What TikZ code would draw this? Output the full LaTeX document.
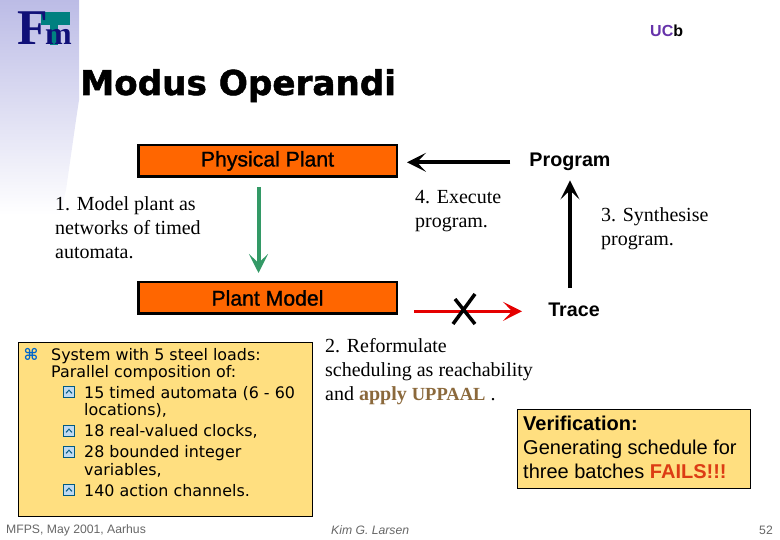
\documentclass[tikz,border=0pt]{standalone}
\usepackage{fontspec}
\setmainfont{Liberation Serif}
\setsansfont{Liberation Sans}
\newfontfamily\verdfont{DejaVu Sans}
\newfontfamily\titlefont[BoldFeatures={FakeBold=1.5}]{DejaVu Sans}
\newfontfamily\plantfont[FakeBold=1.2]{Liberation Sans}
\usepackage{tikz}
\usetikzlibrary{arrows.meta, positioning}
\definecolor{plantorange}{RGB}{255,102,0}
\definecolor{noteyellow}{RGB}{255,223,128}
\definecolor{bandblue}{RGB}{188,188,230}
\definecolor{logoblue}{RGB}{16,16,120}
\definecolor{logoteal}{RGB}{0,128,128}
\definecolor{arrowgreen}{RGB}{51,153,102}
\definecolor{applybrown}{RGB}{139,105,60}
\definecolor{bulletblue}{RGB}{0,102,204}
\definecolor{subblue}{RGB}{0,90,130}
\definecolor{failred}{RGB}{220,60,20}
\definecolor{ucbpurple}{RGB}{102,51,170}

\newcommand{\subbullet}[2]{%
  \node[subbox] (#1) at (#2) {};
  \draw[subblue, line width=1pt] ([xshift=-3pt, yshift=-1.4pt]#1.center) -- ([yshift=1.8pt]#1.center) -- ([xshift=3pt, yshift=-1.4pt]#1.center);
}

\begin{document}
\begin{tikzpicture}[x=1pt, y=-1pt, >=Stealth,
  plant/.style={rectangle, draw, line width=2.5pt, fill=plantorange, minimum width=258.5pt, minimum height=31.5pt, inner sep=0pt, font=\plantfont\fontsize{21.2}{22}\selectfont},
  heading/.style={anchor=base, inner sep=0pt, font=\sffamily\bfseries\fontsize{19.7}{20}\selectfont},
  step text/.style={anchor=north west, align=left, inner sep=0pt, font=\fontsize{20}{24}\selectfont},
  note/.style={rectangle, draw, line width=0.8pt, fill=noteyellow, anchor=north west, inner sep=0pt},
  bullet text/.style={anchor=north west, align=left, inner sep=0pt, font=\verdfont\fontsize{15.9}{17.5}\selectfont},
  subbox/.style={rectangle, draw=subblue, line width=1.2pt, fill=white!75!bulletblue, minimum size=10.5pt, inner sep=0pt},
  footer/.style={anchor=west, inner sep=0pt, text=black!60, font=\sffamily\fontsize{12.2}{14}\selectfont},
  bigarrow/.style={line width=4pt, -{Stealth[length=19pt, width=19pt, inset=9pt]}}]

\useasboundingbox (0,0) rectangle (780,540);

% side band and logo
\shade[top color=bandblue, bottom color=white, draw=none] (0,0) -- (79,0) -- (79,100) -- (76,120) -- (66,190) -- (60,215) -- (0,215) -- cycle;
\fill[logoteal] (41,12) rectangle (70,25);
\fill[logoteal] (50,25) rectangle (58,45);
\node[anchor=base west, inner sep=0pt, text=logoblue] (logoF) at (17,45) {\fontsize{50}{50}\selectfont\bfseries F};
\node[anchor=base west, inner sep=0pt, text=logoblue] (logoM) at (45,45) {\fontsize{32}{32}\selectfont\bfseries m};

\node[anchor=west, inner sep=0pt] (ucb) at (650,31) {\sffamily\bfseries\fontsize{16}{18}\selectfont\textcolor{ucbpurple}{UC}b};
\node[anchor=base west, inner sep=0pt] (title) at (80,95) {\titlefont\bfseries\fontsize{34.2}{40}\selectfont Modus Operandi};

% boxes
\node[plant, anchor=north west] (physical) at (137,144) {Physical Plant};
\node[plant, below=103pt of physical] (model) {Plant Model};
\node[heading] (program) at (570,167) {Program};
\node[heading] (trace) at (574,317) {Trace};

% connectors
\draw[bigarrow, shorten >=9pt] (program.west) ++(-19pt,0) coordinate (progout) (progout) -- (physical.east |- progout);
\draw[bigarrow, arrowgreen, shorten <=9pt, shorten >=8pt] (physical.south) ++(-9pt,0) coordinate (greentop) (greentop) -- (greentop |- model.north);
\draw[bigarrow, shorten <=15pt, shorten >=9pt] (trace.north -| program) -- (program.south);
\draw[bigarrow, red!90!black, line width=3.5pt, shorten <=16pt, shorten >=26pt] (model.east |- trace) ++(0,-1pt) coordinate (redstart) (redstart) -- (redstart -| trace.west);
\coordinate (cross) at (465,310);
\draw[line width=3.5pt] (cross) ++(-10,-11) -- ++(20,25) (cross) ++(10,-16) -- ++(-22,30);

% step labels
\node[step text] (step1) at (55,196.5) {1. Model plant as\\networks of timed\\automata.};
\node[step text] (step4) at (415,190) {4. Execute\\program.};
\node[step text] (step3) at (601,207.5) {3. Synthesise\\program.};
\node[step text] (step2) at (325,338.5) {2. Reformulate\\scheduling as reachability\\and \textcolor{applybrown}{\textbf{apply} \textbf{\fontsize{18.5}{18}\selectfont UPPAAL}} .};

% note boxes
\node[note, minimum width=294pt, minimum height=174pt] (system) at (18,342) {};
\node[text=bulletblue, inner sep=0pt, font=\verdfont\bfseries\fontsize{16}{18}\selectfont] (mainbullet) at (31,354) {⌘};
\node[bullet text] (systemtext) at (51,348) {System with 5 steel loads:\\Parallel composition of:};
\node[bullet text] (item1) at (84,386) {15 timed automata (6 - 60\\locations),};
\node[bullet text] (item2) at (84,424.5) {18 real-valued clocks,};
\node[bullet text] (item3) at (84,445.5) {28 bounded integer\\variables,};
\node[bullet text] (item4) at (84,484) {140 action channels.};
\subbullet{sub1}{69,392}
\subbullet{sub2}{69,431}
\subbullet{sub3}{69,452}
\subbullet{sub4}{69,490}

\node[note, minimum width=233pt, minimum height=79pt] (verify) at (516.5,408.5) {};
\node[anchor=north west, align=left, inner sep=0pt, font=\sffamily\fontsize{20}{24}\selectfont] (verifytext) at (523,416) {\textbf{Verification:}\\Generating schedule for\\three batches \textcolor{failred}{\textbf{FAILS!!!}}};

% footer
\node[footer] (place) at (6,530.5) {MFPS, May 2001, Aarhus};
\node[footer, font=\sffamily\itshape\fontsize{12.2}{14}\selectfont] (author) at (331,530.5) {Kim G. Larsen};
\node[footer, anchor=east] (page) at (773,530.5) {52};

\end{tikzpicture}
\end{document}
